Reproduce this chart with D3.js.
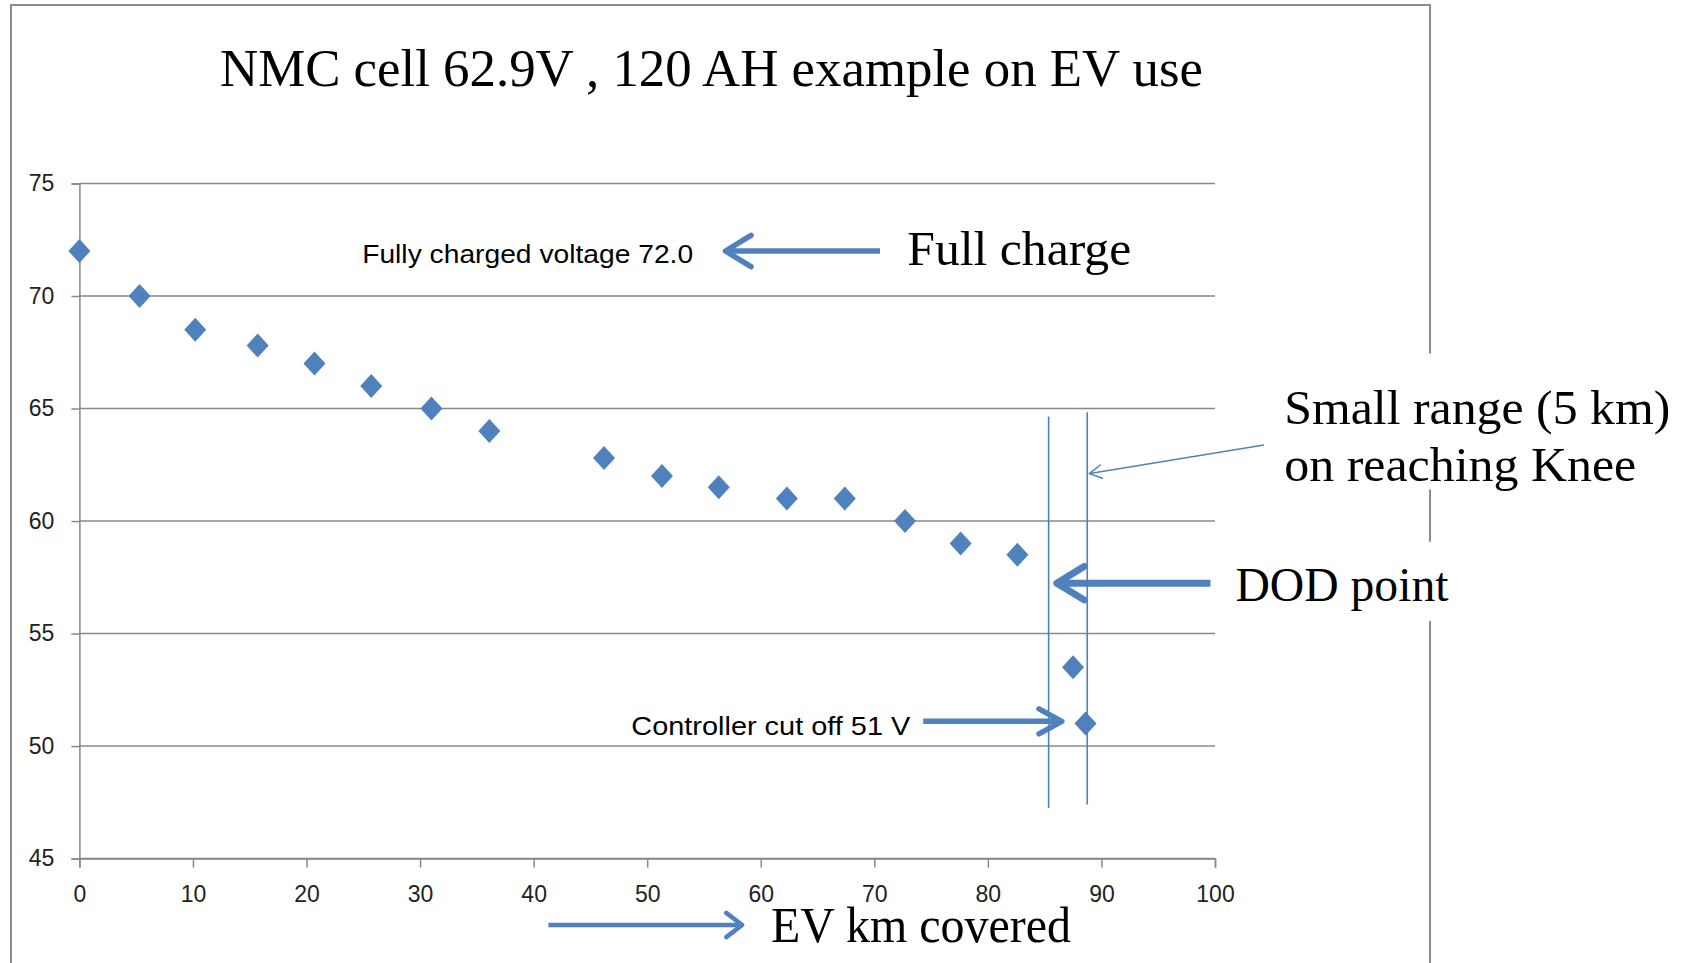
<!DOCTYPE html>
<html><head><meta charset="utf-8">
<script src="https://cdn.jsdelivr.net/npm/d3@7"></script>
<style>html,body{margin:0;padding:0;background:#fff;}svg{display:block;}</style>
</head><body>
<svg id="c" width="1683" height="963"></svg>
<script>
// ---- data ----
const kmCovered = [0, 5.3, 10.2, 15.7, 20.7, 25.7, 31.0, 36.1, 46.2, 51.3, 56.3, 62.3, 67.4, 72.7, 77.6, 82.6, 87.5, 88.6];
const voltage   = [72.0, 70.0, 68.5, 67.8, 67.0, 66.0, 65.0, 64.0, 62.8, 62.0, 61.5, 61.0, 61.0, 60.0, 59.0, 58.5, 53.5, 51.0];
const xTicks = [0, 10, 20, 30, 40, 50, 60, 70, 80, 90, 100];
const yTicks = [45, 50, 55, 60, 65, 70, 75];
const titleText = "NMC cell 62.9V , 120 AH example on EV use";
const kneeLinesKm = [85.35, 88.75];

const svg = d3.select("#c");
const x = d3.scaleLinear().domain([0, 100]).range([79.4, 1215]);
const y = d3.scaleLinear().domain([45, 75]).range([858.6, 183.5]);
const blue = "#4F81BD", grid = "#888888";
const sans = "'Liberation Sans Narrow', 'Liberation Sans', sans-serif";
const serif = "'Liberation Serif', serif";

// outer frame
svg.append("rect").attr("x", 11).attr("y", 5).attr("width", 1419).attr("height", 1000)
  .attr("fill", "#fff").attr("stroke", "#8c8c8c").attr("stroke-width", 2);

// title
svg.append("text").attr("x", 220).attr("y", 86).text(titleText)
  .attr("font-family", serif).attr("font-size", 52)
  .attr("textLength", 983).attr("lengthAdjust", "spacingAndGlyphs").attr("fill", "#000");

// gridlines
svg.append("g").selectAll("line").data(yTicks).join("line")
  .attr("x1", x(0)).attr("x2", x(100)).attr("y1", d => y(d)).attr("y2", d => y(d))
  .attr("stroke", grid).attr("stroke-width", 1.5);

// y axis
const yAxis = svg.append("g").attr("transform", `translate(${x(0)},0)`)
  .call(d3.axisLeft(y).tickValues(yTicks).tickSize(8).tickPadding(17));
yAxis.select(".domain").attr("stroke", grid).attr("stroke-width", 1.5);
yAxis.selectAll(".tick line").attr("stroke", grid).attr("stroke-width", 1.5);
yAxis.selectAll("text").attr("font-family", "'Liberation Sans', sans-serif").attr("font-size", 23).attr("fill", "#222");

// x axis
const xAxis = svg.append("g").attr("transform", `translate(0,${y(45)})`)
  .call(d3.axisBottom(x).tickValues(xTicks).tickSize(9).tickPadding(18));
xAxis.select(".domain").attr("stroke", grid).attr("stroke-width", 1.5);
xAxis.selectAll(".tick line").attr("stroke", grid).attr("stroke-width", 1.5);
xAxis.selectAll("text").attr("font-family", "'Liberation Sans', sans-serif").attr("font-size", 23).attr("fill", "#222");

// knee vertical lines
svg.append("line").attr("x1", x(kneeLinesKm[0])).attr("x2", x(kneeLinesKm[0]))
  .attr("y1", y(64.65)).attr("y2", y(47.25)).attr("stroke", blue).attr("stroke-width", 1.6);
svg.append("line").attr("x1", x(kneeLinesKm[1])).attr("x2", x(kneeLinesKm[1]))
  .attr("y1", y(64.84)).attr("y2", y(47.4)).attr("stroke", blue).attr("stroke-width", 1.6);

// points
const pts = kmCovered.map((k, i) => ({k, v: voltage[i]}));
svg.append("g").selectAll("path").data(pts).join("path")
  .attr("transform", d => `translate(${x(d.k)},${y(d.v)})`)
  .attr("d", "M0,-12L11,0L0,12L-11,0Z").attr("fill", blue);

// arrows helper (data units)
function arrow(x1, y1, x2, y2, w, head, spread) {
  const X1 = x(x1), Y1 = y(y1), X2 = x(x2), Y2 = y(y2);
  const ang = Math.atan2(Y2 - Y1, X2 - X1);
  svg.append("line").attr("x1", X1).attr("y1", Y1).attr("x2", X2 - Math.cos(ang) * w).attr("y2", Y2 - Math.sin(ang) * w)
    .attr("stroke", blue).attr("stroke-width", w);
  const a1 = ang + Math.PI - spread, a2 = ang + Math.PI + spread;
  const tx = X2 - Math.cos(ang) * w * 0.6, ty = Y2 - Math.sin(ang) * w * 0.6;
  svg.append("path")
    .attr("d", `M${tx + Math.cos(a1) * head},${ty + Math.sin(a1) * head}L${tx},${ty}L${tx + Math.cos(a2) * head},${ty + Math.sin(a2) * head}`)
    .attr("fill", "none").attr("stroke", blue).attr("stroke-width", w).attr("stroke-linejoin", "round").attr("stroke-linecap", "round");
}

// text helper
function label(xv, yv, txt, fam, size, len) {
  svg.append("text").attr("x", x(xv)).attr("y", y(yv)).text(txt)
    .attr("font-family", fam).attr("font-size", size).attr("fill", "#000")
    .attr("textLength", len).attr("lengthAdjust", "spacingAndGlyphs");
}

// white boxes behind right annotations (cover frame)
svg.append("rect").attr("x", x(104.5)).attr("y", y(62.2) - 118).attr("width", 420).attr("height", 136).attr("fill", "#fff");
svg.append("rect").attr("x", x(101.0)).attr("y", y(57.3) - 40).attr("width", 240).attr("height", 79).attr("fill", "#fff");

// annotations
label(24.9, 71.47, "Fully charged voltage 72.0", sans, 26, 331);
arrow(70.5, 72.0, 56.6, 72.0, 5.5, 30, 0.55);
label(72.9, 71.4, "Full charge", serif, 48, 224);

label(106.1, 64.3, "Small range (5 km)", serif, 48, 386);
label(106.1, 61.77, "on reaching Knee", serif, 48, 352);
arrow(104.3, 63.38, 88.85, 62.1, 1.5, 14, 0.5);

arrow(99.6, 57.24, 85.7, 57.24, 7, 32, 0.55);
label(101.8, 56.44, "DOD point", serif, 48, 213);

label(48.6, 50.5, "Controller cut off 51 V", sans, 26, 279);
arrow(74.3, 51.1, 86.8, 51.1, 5.5, 26, 0.5);

arrow(41.3, 42.05, 58.6, 42.05, 4.5, 20, 0.65);
label(60.9, 41.3, "EV km covered", serif, 50, 300);
</script>
</body></html>
